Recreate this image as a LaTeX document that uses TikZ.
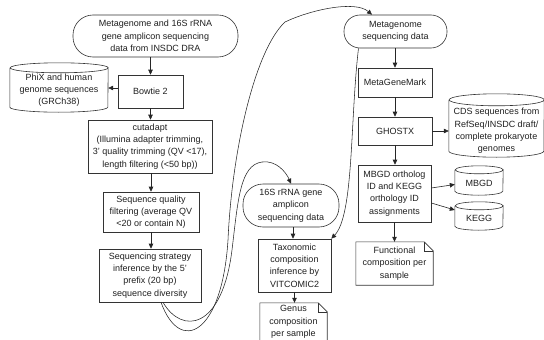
\documentclass[tikz,border=0pt]{standalone}
\usepackage{fontspec}
\setmainfont{Liberation Sans}
\usetikzlibrary{arrows.meta,calc}
\newcommand{\cylout}[3]{% name, half width, ellipse y radius
  \draw[shapeline] ([yshift=-#3]#1.north west) -- ([yshift=#3]#1.south west)
    arc[start angle=180, end angle=360, x radius=#2, y radius=#3]
    -- ([yshift=-#3]#1.north east)
    arc[start angle=0, end angle=360, x radius=#2, y radius=#3];}
\newcommand{\docout}[2]{% name, fold size
  \draw[shapeline] (#1.north west) -- ([xshift=-#2]#1.north east) -- ([yshift=-#2]#1.north east)
    -- (#1.south east) -- (#1.south west) -- cycle;
  \draw[shapeline] ([xshift=-#2]#1.north east) -- ([xshift=-#2,yshift=-#2]#1.north east) -- ([yshift=-#2]#1.north east);}
\begin{document}
\begin{tikzpicture}[x=1pt,y=-1pt,
  every node/.style={font=\fontsize{9}{12.3}\selectfont, text=black!88, align=center, inner sep=0pt},
  shapeline/.style={draw=black!80, line width=0.6pt},
  proc/.style={shapeline, rectangle},
  term/.style={shapeline, rectangle},
  blank/.style={rectangle},
  arr/.style={draw=black!85, line width=0.6pt, -{Triangle[length=5pt,width=4.5pt]}},
  link/.style={draw=black!85, line width=0.55pt, -{Triangle[length=5pt,width=4.5pt]}}]
\useasboundingbox (0,0) rectangle (544,340);

% left column
\node[term, rounded corners=20pt, minimum width=165pt, minimum height=42pt] (src) at (155.5,36)
  {Metagenome and 16S rRNA\\gene amplicon sequencing\\data from INSDC DRA};
\node[proc, minimum width=65pt, minimum height=33pt] (bowtie) at (150.5,91.5) {Bowtie 2};
\node[blank, minimum width=98pt, minimum height=49pt] (phix) at (59,87.5) {};
\cylout{phix}{49pt}{5pt}
\node (phixtext) at (59,90) {PhiX and human\\genome sequences\\(GRCh38)};
\node[proc, minimum width=124pt, minimum height=53pt] (cut) at (150,146.5)
  {cutadapt\\(Illumina adapter trimming,\\3' quality trimming (QV <17),\\length filtering (<50 bp))};
\node[proc, minimum width=96pt, minimum height=40pt] (sqf) at (151,212)
  {Sequence quality\\filtering (average QV\\<20 or contain N)};
\node[proc, minimum width=102pt, minimum height=53pt] (seq) at (150,275.5)
  {Sequencing strategy\\inference by the 5'\\prefix (20 bp)\\sequence diversity};

% right column
\node[term, rounded corners=16pt, minimum width=103pt, minimum height=33pt] (meta) at (395.5,31.5)
  {Metagenome\\sequencing data};
\node[proc, minimum width=74pt, minimum height=29pt] (mgm) at (395,82.5) {MetaGeneMark};
\node[proc, minimum width=74pt, minimum height=28pt] (ghostx) at (395,131) {GHOSTX};
\node[blank, minimum width=95pt, minimum height=63pt] (cds) at (496.5,125.5) {};
\cylout{cds}{47.5pt}{6pt}
\node (cdstext) at (496.5,131) {CDS sequences from\\RefSeq/INSDC draft/\\complete prokaryote\\genomes};
\node[proc, minimum width=73pt, minimum height=57pt] (mbgdbox) at (394.5,193.5)
  {MBGD ortholog\\ID and KEGG\\orthology ID\\assignments};
\node[blank, minimum width=48pt, minimum height=29pt] (mbgd) at (479,180.5) {};
\cylout{mbgd}{24pt}{4pt}
\node (mbgdtext) at (479,183) {MBGD};
\node[blank, minimum width=48pt, minimum height=28pt] (kegg) at (479,216) {};
\cylout{kegg}{24pt}{4pt}
\node (keggtext) at (479,218) {KEGG};
\node[blank, minimum width=77pt, minimum height=43pt] (func) at (394.5,263.5)
  {Functional\\composition per\\sample};
\docout{func}{9pt}

% middle column
\node[term, rounded corners=20pt, minimum width=96pt, minimum height=43pt] (s16) at (291,205.5)
  {16S rRNA gene\\amplicon\\sequencing data};
\node[proc, minimum width=73pt, minimum height=53pt] (tax) at (294.5,265.5)
  {Taxonomic\\composition\\inference by\\VITCOMIC2};
\node[blank, minimum width=67pt, minimum height=42pt] (genus) at (293.5,324) {};
\docout{genus}{9pt}
\node (genustext) at (293.5,322) {Genus\\composition\\per sample};

% straight arrows
\draw[arr] (bowtie.north |- src.south) -- (bowtie.north);
\draw[arr] ([yshift=3.5pt]bowtie.west) -- ([yshift=3.5pt]bowtie.west -| phix.east);
\draw[arr] (bowtie.south) -- (bowtie.south |- cut.north);
\draw[arr] (sqf.north |- cut.south) -- (sqf.north);
\draw[arr] (sqf.south) -- (sqf.south |- seq.north);
\draw[arr] (mgm.north |- meta.south) -- (mgm.north);
\draw[arr] (mgm.south) -- (ghostx.north);
\draw[arr] (ghostx.south) -- (ghostx.south |- mbgdbox.north);
\draw[arr] (ghostx.east) -- (cds.west |- ghostx.east);
\draw[arr] ([yshift=5.5pt]mbgdbox.east) -- ([yshift=-4pt]mbgd.west);
\draw[arr] ([yshift=-9.5pt]mbgdbox.east) -- ([yshift=6pt]kegg.west);
\draw[arr] (mbgdbox.south) -- (mbgdbox.south |- func.north);
\draw[arr] ([xshift=2pt]s16.south) -- ([xshift=2pt]s16.south |- tax.north);
\draw[arr] (tax.south) -- (tax.south |- genus.north);

% curved connectors
\draw[link] ([xshift=11pt]seq.south) .. controls (180,355) and (222,335) .. (228,240)
  .. controls (232,150) and (255,50) .. (285,22)
  .. controls (310,10) and (355,0) .. ([xshift=-23.5pt]meta.north);
\draw[link] ([xshift=13pt]seq.south) .. controls (182,335) and (222,330) .. (232,250)
  .. controls (238,200) and (240,165) .. (262,162)
  .. controls (276,160) and (286,172) .. (s16.north);
\draw[link] ([xshift=-37pt]meta.south) .. controls (350,120) and (354,215) .. (tax.north east);
\end{tikzpicture}
\end{document}
